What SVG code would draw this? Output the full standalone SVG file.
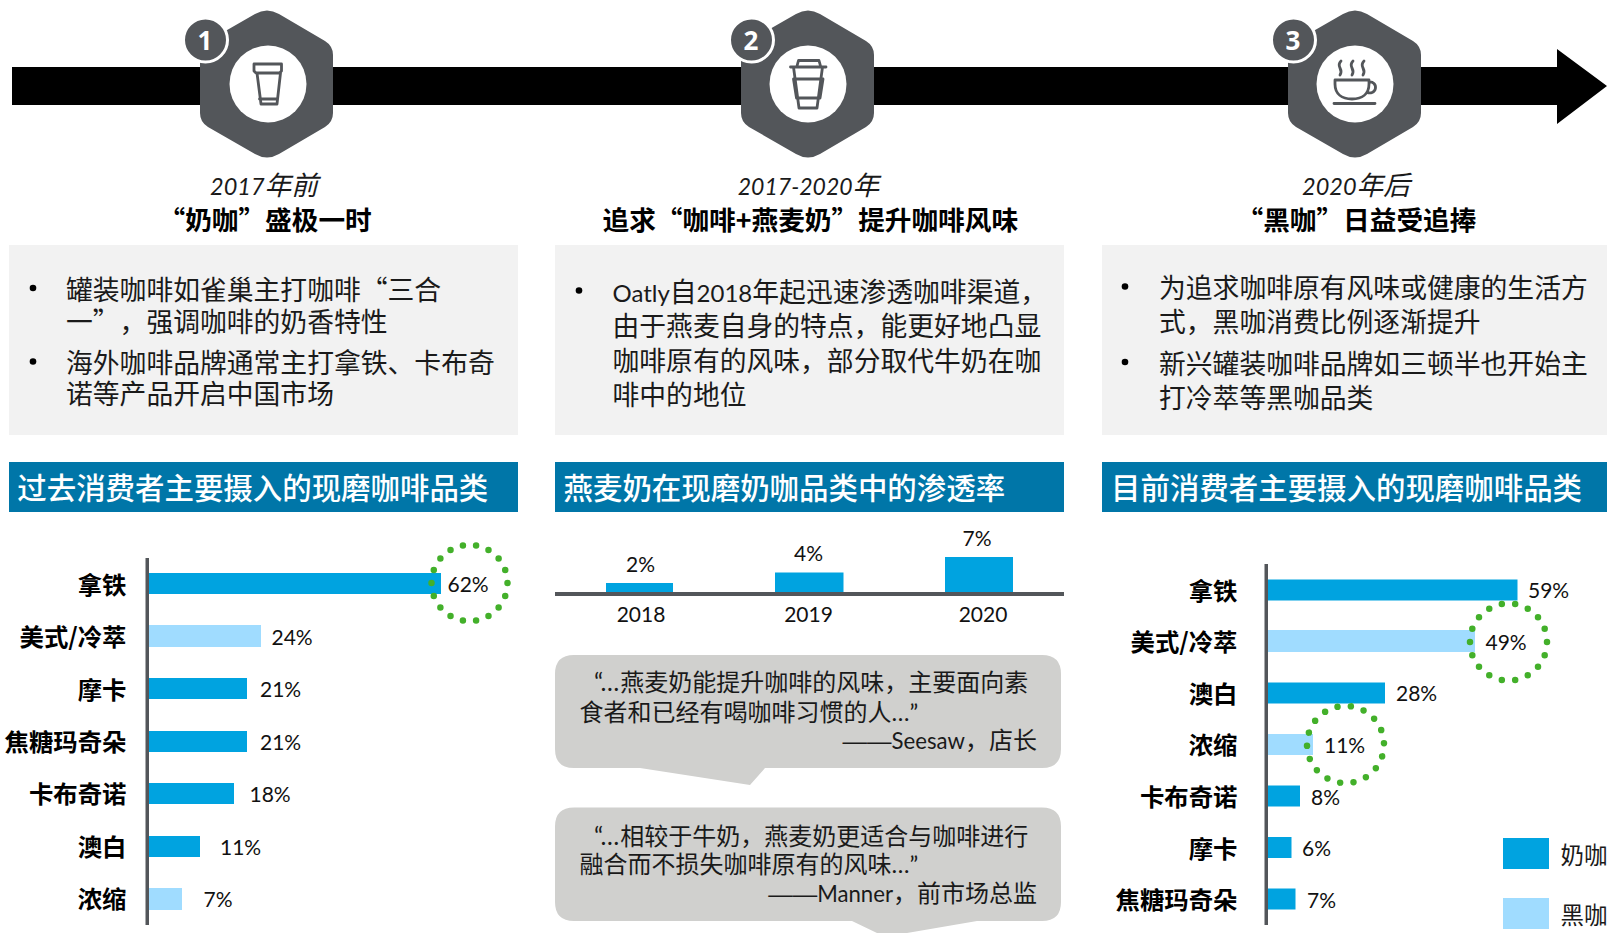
<svg xmlns="http://www.w3.org/2000/svg" width="1607" height="933" viewBox="0 0 1607 933">
<style>
text{font-family:"Noto Sans CJK SC",sans-serif;fill:#1a1a1a;text-spacing-trim:space-all}
.l{font-family:"Lato","Noto Sans CJK SC",sans-serif}
.dash{font-family:"Liberation Sans",sans-serif;font-size:24.5px}
.tb{font-size:26.67px;font-weight:700;fill:#000}
.ti{font-size:26.67px;font-style:italic}
.b{font-size:26.8px}
.h{font-size:29.45px;font-weight:500;fill:#fff}
.cat{font-size:24.4px;font-weight:700;text-anchor:end;fill:#000}
.v{font-family:"Lato",sans-serif;font-size:21px;fill:#111}
.m{text-anchor:middle}
.q{font-size:24px}
.num{font-family:"Open Sans",sans-serif;font-size:26px;font-weight:700;fill:#fff;text-anchor:middle}
.panel{fill:#f2f2f2}.hb{fill:#0076a8}.d{fill:#00a3e0}.lt{fill:#a0dcff}.ax{fill:#53565a}
.bub{fill:#d0d0ce}
.ring{fill:none;stroke:#43b02a;stroke-width:6.5;stroke-linecap:round;stroke-dasharray:0 1}
.ic{fill:none;stroke:#53565a;stroke-width:2.8;stroke-linejoin:round;stroke-linecap:round}
</style>
<defs>
<path id="hex" d="M255 14Q267 7 279 14L325 41Q333 46 333 55V113Q333 122 325 127L279 154Q267 161 255 154L208 127Q200 122 200 113V55Q200 46 208 41Z" fill="#53565a"/>
</defs>
<rect width="1607" height="933" fill="#fff"/>
<g id="timeline-arrow"><path d="M12 67H1557V49L1607 86L1557 124V105H12Z" fill="#000"/></g>

<g id="stage-1">
<use href="#hex"/><circle cx="268" cy="84" r="38.5" fill="#fff"/>
<path class="ic" d="M254 64H281.500V71L279.500 73H256L254 71ZM257 73L261 104H277L280.500 73M259.500 99H277.500"/>
<circle cx="205.500" cy="40" r="22" fill="#53565a" stroke="#fff" stroke-width="3"/><text class="num" x="205" y="49.500">1</text>
</g>
<g id="stage-2">
<use href="#hex" x="541"/><circle cx="808" cy="84" r="38.5" fill="#fff"/>
<path class="ic" d="M797 66L798.500 60.500H819L820.500 66M790.500 67H826M793.500 67L799 108H817L822.500 67M793.500 79H823L820 98H796.500Z"/>
<circle cx="751.500" cy="40" r="22" fill="#53565a" stroke="#fff" stroke-width="3"/><text class="num" x="751" y="49.500">2</text>
</g>
<g id="stage-3">
<use href="#hex" x="1088"/><circle cx="1355" cy="84" r="38.5" fill="#fff"/>
<path class="ic" d="M1341 61Q1338 64 1340 68T1340 75M1353 61Q1350 64 1352 68T1352 75M1364 61Q1361 64 1363 68T1363 75M1335 80H1369V84C1369 94 1362 99 1352 99C1342 99 1335 94 1335 84ZM1369 82A5.500 5.500 0 1 1 1367 92M1334 103.500H1375"/>
<circle cx="1293.500" cy="40" r="22" fill="#53565a" stroke="#fff" stroke-width="3"/><text class="num" x="1293" y="49.500">3</text>
</g>

<g id="col-1-text">
<text class="ti m" x="264" y="195"><tspan class="l" font-size="23.500">2017</tspan>年前</text>
<text class="tb" x="158.500" y="230">“奶咖”盛极一时</text>
<rect class="panel" x="9" y="245" width="509" height="190"/>
<circle cx="33" cy="288" r="3.300" fill="#000"/><circle cx="33" cy="361.500" r="3.300" fill="#000"/>
<text class="b" x="66" y="300">罐装咖啡如雀巢主打咖啡“三合</text>
<text class="b" x="66" y="331.500">一”，强调咖啡的奶香特性</text>
<text class="b" x="66" y="373">海外咖啡品牌通常主打拿铁、卡布奇</text>
<text class="b" x="66" y="404">诺等产品开启中国市场</text>
<rect class="hb" x="9" y="462" width="509" height="50"/>
<text class="h" x="17.300" y="499">过去消费者主要摄入的现磨咖啡品类</text>
</g>
<g id="col-2-text">
<text class="ti m" x="808.500" y="195"><tspan class="l" font-size="23">2017-2020</tspan>年</text>
<text class="tb" x="602.500" y="230">追求“咖啡+燕麦奶”提升咖啡风味</text>
<rect class="panel" x="555" y="245" width="509" height="190"/>
<circle cx="579" cy="290.500" r="3.300" fill="#000"/>
<text class="b" x="612.500" y="302"><tspan class="l" font-size="24">Oatly</tspan>自<tspan class="l" font-size="24">2018</tspan>年起迅速渗透咖啡渠道，</text>
<text class="b" x="612.500" y="336">由于燕麦自身的特点，能更好地凸显</text>
<text class="b" x="612.500" y="371">咖啡原有的风味，部分取代牛奶在咖</text>
<text class="b" x="612.500" y="405">啡中的地位</text>
<rect class="hb" x="555" y="462" width="509" height="50"/>
<text class="h" x="563.500" y="499">燕麦奶在现磨奶咖品类中的渗透率</text>
</g>
<g id="col-3-text">
<text class="ti m" x="1356" y="195"><tspan class="l" font-size="23.500">2020</tspan>年后</text>
<text class="tb" x="1236.500" y="230">“黑咖”日益受追捧</text>
<rect class="panel" x="1102" y="245" width="505" height="190"/>
<circle cx="1125" cy="286.500" r="3.300" fill="#000"/><circle cx="1125" cy="362" r="3.300" fill="#000"/>
<text class="b" x="1159" y="298">为追求咖啡原有风味或健康的生活方</text>
<text class="b" x="1159" y="332">式，黑咖消费比例逐渐提升</text>
<text class="b" x="1159" y="374">新兴罐装咖啡品牌如三顿半也开始主</text>
<text class="b" x="1159" y="408">打冷萃等黑咖品类</text>
<rect class="hb" x="1102" y="462" width="505" height="50"/>
<text class="h" x="1111" y="499">目前消费者主要摄入的现磨咖啡品类</text>
</g>

<g id="chart-past">
<rect class="ax" x="145.500" y="558" width="3.500" height="367"/>
<rect class="d" x="149" y="573" width="292" height="21"/>
<rect class="lt" x="149" y="625" width="112" height="22"/>
<rect class="d" x="149" y="678" width="98" height="21"/>
<rect class="d" x="149" y="731" width="98" height="21"/>
<rect class="d" x="149" y="783" width="85" height="21"/>
<rect class="d" x="149" y="836" width="51" height="21"/>
<rect class="lt" x="149" y="888" width="33" height="22"/>
<text class="cat" x="126.500" y="594">拿铁</text><text class="cat" x="126.500" y="646">美式/冷萃</text><text class="cat" x="126.500" y="699">摩卡</text><text class="cat" x="126.500" y="751">焦糖玛奇朵</text><text class="cat" x="126.500" y="803">卡布奇诺</text><text class="cat" x="126.500" y="856">澳白</text><text class="cat" x="126.500" y="908">浓缩</text>
<text class="v" x="447.500" y="591.500">62%</text><text class="v" x="271.500" y="645">24%</text><text class="v" x="260" y="697">21%</text><text class="v" x="260" y="750">21%</text><text class="v" x="249.500" y="802">18%</text><text class="v" x="220" y="855">11%</text><text class="v" x="203.500" y="907">7%</text>
<circle class="ring" cx="469.500" cy="583" r="38" pathLength="18"/>
</g>

<g id="chart-penetration">
<rect class="d" x="606" y="583" width="67" height="10"/>
<rect class="d" x="775" y="572.500" width="68.500" height="20.500"/>
<rect class="d" x="945" y="557" width="68" height="36"/>
<rect class="ax" x="555" y="592" width="509" height="4"/>
<text class="v m" x="640.500" y="572">2%</text><text class="v m" x="808.500" y="561">4%</text><text class="v m" x="977" y="546">7%</text>
<text class="v m" x="641" y="621.500">2018</text><text class="v m" x="808.500" y="621.500">2019</text><text class="v m" x="983" y="621.500">2020</text>
</g>

<g id="quote-1">
<path class="bub" d="M574 655H1042Q1061 655 1061 674V749Q1061 768 1042 768H765L750 785L640 768H574Q555 768 555 749V674Q555 655 574 655Z"/>
<text class="q" x="594" y="691"><tspan class="l" font-size="25">“…</tspan><tspan dx="1">燕麦奶能提升咖啡的风味，主要面向素</tspan></text>
<text class="q" x="579.500" y="720.500">食者和已经有喝咖啡习惯的人<tspan class="l" font-size="24">…”</tspan></text>
<text class="q" x="1037" y="749" text-anchor="end"><tspan class="dash">——</tspan><tspan class="l" font-size="22.200">Seesaw</tspan>，店长</text>
</g>
<g id="quote-2">
<path class="bub" d="M574 807.500H1042Q1061 807.500 1061 826.500V902Q1061 921 1042 921H977L907 933H877L852 921H574Q555 921 555 902V826.500Q555 807.500 574 807.500Z"/>
<text class="q" x="594" y="845"><tspan class="l" font-size="25">“…</tspan><tspan dx="1">相较于牛奶，燕麦奶更适合与咖啡进行</tspan></text>
<text class="q" x="579.500" y="873">融合而不损失咖啡原有的风味<tspan class="l" font-size="24">…”</tspan></text>
<text class="q" x="1037" y="902" text-anchor="end"><tspan class="dash">——</tspan><tspan class="l" font-size="22.200">Manner</tspan>，前市场总监</text>
</g>

<g id="chart-current">
<rect class="ax" x="1264.500" y="564" width="3.500" height="361"/>
<rect class="d" x="1268" y="579.500" width="249.500" height="21"/>
<rect class="lt" x="1268" y="630" width="207" height="22"/>
<rect class="d" x="1268" y="682.500" width="117" height="21"/>
<rect class="lt" x="1268" y="734" width="45" height="21"/>
<rect class="d" x="1268" y="785.500" width="32" height="21"/>
<rect class="d" x="1268" y="837" width="23.500" height="21"/>
<rect class="d" x="1268" y="888.500" width="27.500" height="21"/>
<text class="cat" x="1237.500" y="600">拿铁</text><text class="cat" x="1237.500" y="651">美式/冷萃</text><text class="cat" x="1237.500" y="703">澳白</text><text class="cat" x="1237.500" y="754">浓缩</text><text class="cat" x="1237.500" y="806">卡布奇诺</text><text class="cat" x="1237.500" y="858">摩卡</text><text class="cat" x="1237.500" y="909">焦糖玛奇朵</text>
<text class="v" x="1528" y="598">59%</text><text class="v" x="1485.500" y="650">49%</text><text class="v" x="1396" y="701">28%</text><text class="v" x="1324" y="753">11%</text><text class="v" x="1311" y="805">8%</text><text class="v" x="1302" y="856">6%</text><text class="v" x="1307" y="907.500">7%</text>
<circle class="ring" cx="1508.500" cy="642" r="38.500" pathLength="18"/>
<circle class="ring" cx="1345.500" cy="744.500" r="38.500" pathLength="18" transform="rotate(-2 1345.500 744.500)"/>
</g>

<g id="legend">
<rect class="d" x="1503" y="838" width="46" height="31"/>
<rect class="lt" x="1503" y="898" width="46" height="31"/>
<text x="1560.500" y="864" font-size="23.500">奶咖</text>
<text x="1560.500" y="924" font-size="23.500">黑咖</text>
</g>
</svg>
